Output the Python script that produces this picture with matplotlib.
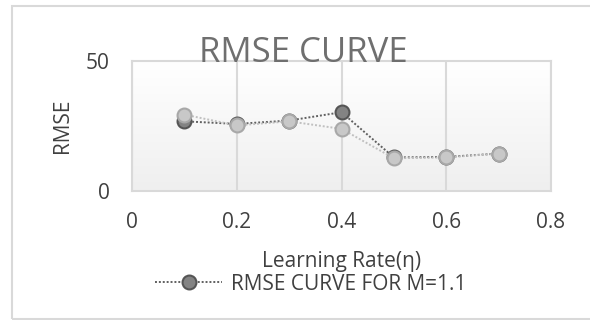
import numpy as np
import matplotlib.pyplot as plt
from matplotlib.patches import Rectangle
from matplotlib.colors import LinearSegmentedColormap

plt.rcParams['font.family'] = ['Open Sans', 'DejaVu Sans']

lr = [0.1, 0.2, 0.3, 0.4, 0.5, 0.6, 0.7]
rmse_m11 = [26.8, 25.8, 27.1, 30.3, 12.9, 13.1, 14.4]
rmse_other = [29.4, 25.2, 26.8, 23.9, 12.6, 12.9, 14.4]

fig = plt.figure(figsize=(5.9, 3.2), dpi=100)
# chart border (right edge falls outside the picture)
fig.patches.append(Rectangle((12 / 590, 1 / 320), 1.2, 313 / 320, transform=fig.transFigure,
                             fill=False, edgecolor="#d9d9d9", linewidth=1.5))
ax = fig.add_axes([132 / 590, 129 / 320, 419 / 590, 130 / 320])

# gradient plot-area background
grad = np.linspace(0, 1, 100).reshape(-1, 1)
ax.imshow(grad, extent=[0, 0.8, 0, 50], aspect="auto", origin="upper",
          cmap=LinearSegmentedColormap.from_list("g", ["#ffffff", "#efefef"]), zorder=0)

dot = (0, (1, 1))
ax.plot(lr, rmse_m11, linestyle=dot, color="#606060", linewidth=1.4, marker="o",
        markersize=10, markerfacecolor="#838383", markeredgecolor="#555555",
        markeredgewidth=1.5, label="RMSE CURVE FOR M=1.1", zorder=3)
ax.plot(lr, rmse_other, linestyle=dot, color="#c0c0c0", linewidth=1.4, marker="o",
        markersize=10, markerfacecolor="#c8c8c8", markeredgecolor="#a8a8a8",
        markeredgewidth=1.5, zorder=4)

ax.set_xlim(0, 0.8)
ax.set_ylim(0, 50)
ax.set_xticks([0, 0.2, 0.4, 0.6, 0.8])
ax.set_xticklabels(["0", "0.2", "0.4", "0.6", "0.8"])
ax.set_yticks([0, 50])
ax.tick_params(length=0, labelsize=15, labelcolor="#404040")
ax.tick_params(axis="x", pad=15)
ax.tick_params(axis="y", pad=16)
ax.grid(True, axis="x", color="#d9d9d9", linewidth=1.5)
for s in ax.spines.values():
    s.set_color("#d9d9d9")
    s.set_linewidth(1.5)

ax.set_xlabel("Learning Rate(η)", fontsize=15, color="#404040", va="center")
ax.xaxis.set_label_coords(0.5, -0.545)
ax.set_ylabel("RMSE", fontsize=15, color="#404040", va="center")
ax.yaxis.set_label_coords(-0.165, 0.5)
fig.text(303 / 590, 1 - 62 / 320, "RMSE CURVE", fontsize=25, color="#6f6f6f",
         ha="center", va="baseline")

fig.legend(loc="center", bbox_to_anchor=(311 / 590, 1 - 284 / 320), frameon=False,
           fontsize=15, labelcolor="#404040", handlelength=3.2, handletextpad=0.45,
           borderpad=0, borderaxespad=0)

fig.savefig("out.png", dpi=100)
